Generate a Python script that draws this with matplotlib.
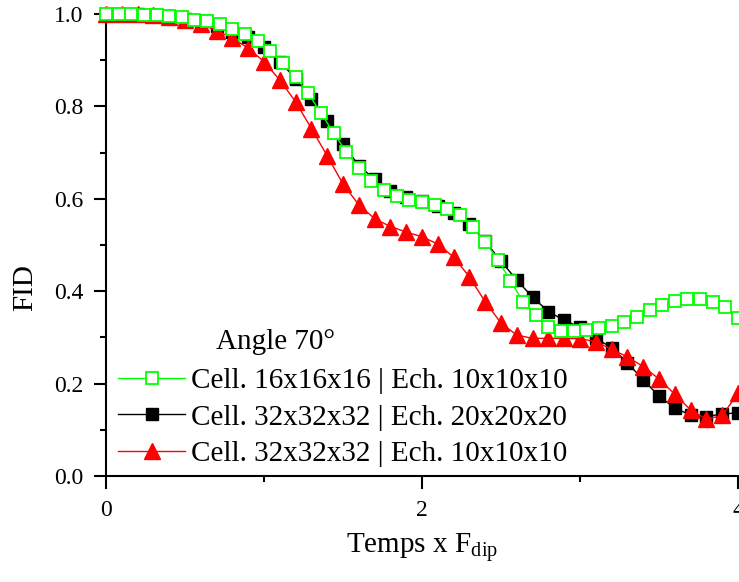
import numpy as np
import matplotlib
matplotlib.use('Agg')
import matplotlib.pyplot as plt
from matplotlib.ticker import MultipleLocator, FormatStrFormatter

plt.rcParams['font.family'] = ['Liberation Serif', 'DejaVu Serif']
plt.rcParams['mathtext.fontset'] = 'custom'
plt.rcParams['mathtext.rm'] = 'Liberation Serif'
plt.rcParams['mathtext.it'] = 'Liberation Serif:italic'

# ---- data ----
t_green = np.arange(51) * 0.08
fid_green = [1.000, 1.000, 1.000, 0.998, 0.997, 0.996, 0.993, 0.988, 0.984, 0.978,
             0.968, 0.957, 0.942, 0.920, 0.895, 0.864, 0.828, 0.786, 0.743, 0.702,
             0.667, 0.639, 0.618, 0.605, 0.597, 0.593, 0.587, 0.579, 0.565, 0.540,
             0.507, 0.468, 0.423, 0.377, 0.348, 0.323, 0.314, 0.314, 0.316, 0.320,
             0.325, 0.334, 0.345, 0.359, 0.370, 0.378, 0.383, 0.383, 0.377, 0.366,
             0.342]

t_black = np.arange(41) * 0.1
fid_black = [1.000, 1.000, 0.999, 0.997, 0.994, 0.990, 0.984, 0.975, 0.962, 0.950,
             0.928, 0.897, 0.860, 0.817, 0.768, 0.718, 0.672, 0.642, 0.616, 0.603,
             0.595, 0.585, 0.570, 0.545, 0.508, 0.465, 0.424, 0.387, 0.356, 0.337,
             0.322, 0.298, 0.278, 0.245, 0.208, 0.173, 0.147, 0.132, 0.128, 0.135,
             0.136]

t_red = np.arange(41) * 0.1
fid_red = [1.000, 1.000, 1.000, 0.998, 0.994, 0.987, 0.978, 0.964, 0.948, 0.926,
           0.897, 0.857, 0.810, 0.752, 0.693, 0.632, 0.587, 0.557, 0.540, 0.528,
           0.518, 0.502, 0.474, 0.431, 0.377, 0.331, 0.305, 0.298, 0.298, 0.298,
           0.297, 0.291, 0.274, 0.258, 0.237, 0.210, 0.177, 0.143, 0.123, 0.131,
           0.179]

labels = ['Cell. 16x16x16 | Ech. 10x10x10',
          'Cell. 32x32x32 | Ech. 20x20x20',
          'Cell. 32x32x32 | Ech. 10x10x10']

fig = plt.figure(figsize=(7.39, 5.82), dpi=100)
ax = fig.add_axes([106/739, 106/582, 632/739, 462/582])

lb, = ax.plot(t_black, fid_black, color='black', lw=1, marker='s', ms=8.5,
              mfc='black', mec='black', clip_on=False, zorder=3)
lr, = ax.plot(t_red, fid_red, color='red', lw=1, marker='^', ms=12,
              mfc='red', mec='red', clip_on=False, zorder=4)
lg, = ax.plot(t_green, fid_green, color='#00ff00', lw=1, marker='s', ms=8.5,
              mfc='white', mec='#00ff00', mew=1.3, clip_on=False, zorder=5)

ax.set_xlim(0, 4)
ax.set_ylim(0, 1.0)
ax.xaxis.set_major_locator(MultipleLocator(2))
ax.xaxis.set_minor_locator(MultipleLocator(1))
ax.yaxis.set_major_locator(MultipleLocator(0.2))
ax.yaxis.set_minor_locator(MultipleLocator(0.1))
ax.yaxis.set_major_formatter(FormatStrFormatter('%.1f'))
ax.xaxis.set_major_formatter(FormatStrFormatter('%d'))

for s in ['top', 'right']:
    ax.spines[s].set_visible(False)
for s in ['left', 'bottom']:
    ax.spines[s].set_linewidth(1.5)
ax.tick_params(which='major', direction='out', length=9, width=1.5,
               labelsize=17, pad=7)
ax.tick_params(axis='x', which='major', pad=8)
ax.tick_params(which='minor', direction='out', length=4.5, width=1.5)

ax.set_xlabel(r'Temps x F$_{\mathrm{dip}}$', fontsize=21)
ax.xaxis.set_label_coords(0.5, -0.118)
ax.set_ylabel('FID', fontsize=21)
ax.yaxis.set_label_coords(-0.108, 0.407)

fig.text(275/739, 1 - 342/582, 'Angle 70°', fontsize=21,
         ha='center', va='center')
fig.legend([lg, lb, lr], labels, loc='lower left',
           bbox_to_anchor=(118/739, 1 - 467/582), frameon=False,
           fontsize=21, handlelength=2.3, handletextpad=0.2,
           labelspacing=0.34, borderpad=0, borderaxespad=0)

fig.savefig('out.png', dpi=100)
